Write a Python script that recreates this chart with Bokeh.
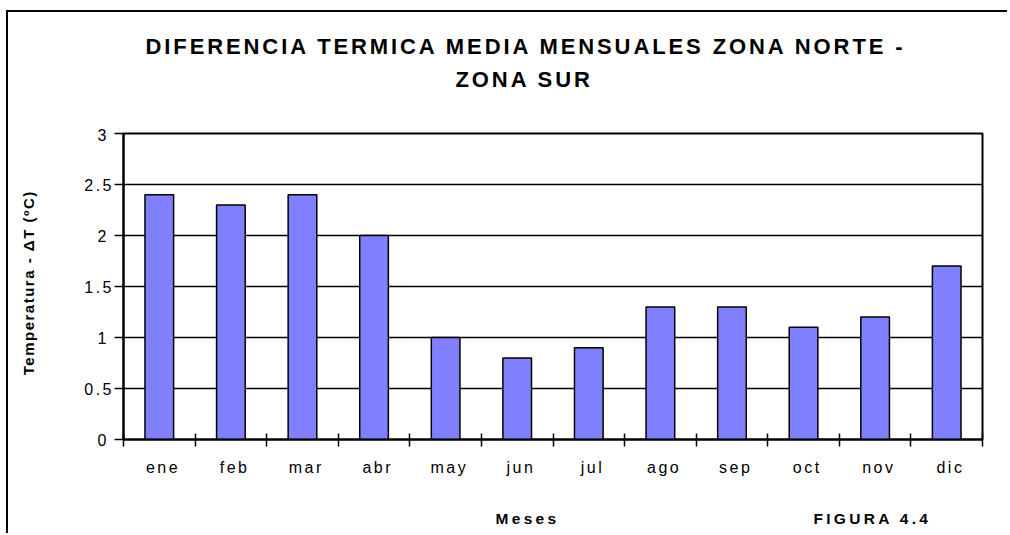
import math
from bokeh.plotting import figure
from bokeh.layouts import column, row
from bokeh.models import Range1d, FixedTicker, Label
from bokeh.embed import file_html
from bokeh.resources import INLINE

# ---- data ----
meses = ["ene", "feb", "mar", "abr", "may", "jun", "jul", "ago", "sep", "oct", "nov", "dic"]
delta_t = [2.4, 2.3, 2.4, 2.0, 1.0, 0.8, 0.9, 1.3, 1.3, 1.1, 1.2, 1.7]
y_ticks = [0.0, 0.5, 1.0, 1.5, 2.0, 2.5, 3.0]
y_tick_labels = ["0", "0.5", "1", "1.5", "2", "2.5", "3"]
titulo_1 = "DIFERENCIA TERMICA MEDIA MENSUALES ZONA NORTE -"
titulo_2 = "ZONA SUR"
eje_x = "Meses"
eje_y = "Temperatura - ΔT (ºC)"
figura = "FIGURA 4.4"

FONT = "Liberation Sans"
BAR_COLOR = "#8080FF"

x_centers = [i + 0.5 for i in range(len(meses))]
x_bounds = [float(i) for i in range(len(meses) + 1)]

W = 999  # width of the content inside the outer frame


def text_panel(width, height, x0, x1, y_top, y_bottom, spacing):
    """A plain figure whose coordinates follow the page pixels, used only for texts."""
    f = figure(width=width, height=height, output_backend="svg", toolbar_location=None,
               title=None, x_axis_type=None, y_axis_type=None,
               x_range=Range1d(x0, x1), y_range=Range1d(y_bottom, y_top),
               min_border=0)
    f.outline_line_color = None
    f.background_fill_color = "white"
    f.border_fill_color = "white"
    f.styles = {"letter-spacing": spacing}
    return f


def add_label(f, text, x, y, size, angle=0.0, baseline="alphabetic"):
    f.add_layout(Label(x=x, y=y, text=text,
                       text_font=FONT, text_font_size=size,
                       text_font_style="bold", angle=angle,
                       text_color="black", text_align="left",
                       text_baseline=baseline))


# ---- title area ----
top = text_panel(W, 116, 8, 8 + W, 12, 128, "2.9px")
add_label(top, titulo_1, 145, 46, "22px")
add_label(top, titulo_2, 455, 79, "22px")

# ---- y-axis title ----
left = text_panel(62, 357, 8, 70, 128, 485, "1.5px")
add_label(left, eje_y, 28, 410, "15px", angle=math.pi / 2, baseline="middle")

# ---- main chart ----
p = figure(width=W - 62, height=357, output_backend="svg", toolbar_location=None,
           title=None,
           x_range=Range1d(0, len(meses)), y_range=Range1d(0, 3),
           min_border_left=53, min_border_right=W + 8 - 982,
           min_border_top=5, min_border_bottom=46)
p.styles = {"letter-spacing": "2.5px"}
p.background_fill_color = "white"
p.border_fill_color = "white"
p.outline_line_color = "black"
p.outline_line_width = 2

p.vbar(x=x_centers, top=delta_t, width=0.4, bottom=0,
       fill_color=BAR_COLOR, line_color="black", line_width=1.5)

p.xgrid.visible = False
p.ygrid.grid_line_color = "black"
p.ygrid.grid_line_width = 1.5

ya = p.yaxis[0]
ya.ticker = FixedTicker(ticks=y_ticks)
ya.major_label_overrides = dict(zip(y_ticks, y_tick_labels))
ya.axis_line_color = "black"
ya.axis_line_width = 2
ya.major_tick_line_color = "black"
ya.major_tick_line_width = 1.5
ya.major_tick_out = 9
ya.major_tick_in = 0
ya.minor_tick_line_color = None
ya.major_label_standoff = 8
ya.major_label_text_font = FONT
ya.major_label_text_font_size = "16px"
ya.major_label_text_color = "black"

xa = p.xaxis[0]
xa.ticker = FixedTicker(ticks=x_centers, minor_ticks=x_bounds)
xa.major_label_overrides = dict(zip(x_centers, meses))
xa.axis_line_color = "black"
xa.axis_line_width = 2
xa.major_tick_line_color = None
xa.major_tick_out = 0
xa.major_tick_in = 0
xa.minor_tick_line_color = "black"
xa.minor_tick_line_width = 1.5
xa.minor_tick_out = 7
xa.minor_tick_in = 6
xa.major_label_standoff = 12
xa.major_label_text_font = FONT
xa.major_label_text_font_size = "16px"
xa.major_label_text_color = "black"

# ---- bottom texts ----
bottom = text_panel(W, 48, 8, 8 + W, 485, 533, "3.3px")
add_label(bottom, eje_x, 495, 518, "15.5px")
add_label(bottom, figura, 813, 518, "15.5px")

layout = column(top, row(left, p), bottom,
                styles={"border-left": "2px solid black", "border-top": "2px solid black",
                        "margin-left": "6px", "margin-top": "10px"})

open("out.html", "w").write(file_html(layout, INLINE))
